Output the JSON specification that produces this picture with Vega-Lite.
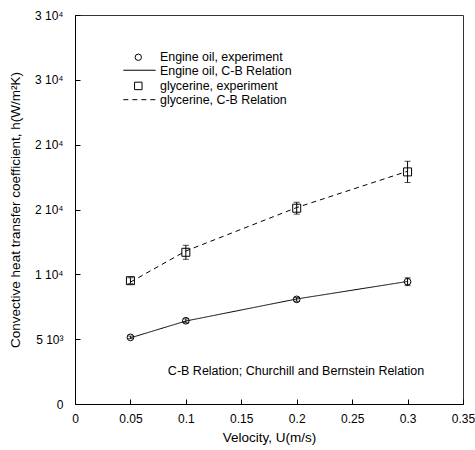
{
  "$schema": "https://vega.github.io/schema/vega-lite/v6.json",
  "width": 388,
  "height": 389,
  "autosize": "none",
  "padding": {"left": 75, "top": 15, "right": 12, "bottom": 46},
  "background": "white",
  "config": {
    "font": "Liberation Sans",
    "view": {"stroke": "#333", "strokeWidth": 1},
    "axis": {"labelFont": "Liberation Sans", "titleFont": "Liberation Sans", "labelColor": "black", "titleColor": "black", "domainColor": "black", "tickColor": "black", "grid": false, "labelFontSize": 12, "titleFontSize": 13.5, "titleFontWeight": "normal", "tickSize": -5}
  },
  "data": {
    "values": [
      {"velocity": 0.05, "h": 5140, "lo": 5040, "hi": 5240, "series": "Engine oil, experiment"},
      {"velocity": 0.1, "h": 6420, "lo": 6270, "hi": 6570, "series": "Engine oil, experiment"},
      {"velocity": 0.2, "h": 8070, "lo": 7920, "hi": 8220, "series": "Engine oil, experiment"},
      {"velocity": 0.3, "h": 9430, "lo": 9130, "hi": 9730, "series": "Engine oil, experiment"},
      {"velocity": 0.05, "h": 5100, "series": "Engine oil, C-B Relation"},
      {"velocity": 0.1, "h": 6400, "series": "Engine oil, C-B Relation"},
      {"velocity": 0.2, "h": 8100, "series": "Engine oil, C-B Relation"},
      {"velocity": 0.3, "h": 9450, "series": "Engine oil, C-B Relation"},
      {"velocity": 0.05, "h": 9510, "lo": 9280, "hi": 9740, "series": "glycerine, experiment"},
      {"velocity": 0.1, "h": 11700, "lo": 11160, "hi": 12240, "series": "glycerine, experiment"},
      {"velocity": 0.2, "h": 15100, "lo": 14640, "hi": 15560, "series": "glycerine, experiment"},
      {"velocity": 0.3, "h": 17900, "lo": 17080, "hi": 18720, "series": "glycerine, experiment"},
      {"velocity": 0.05, "h": 9400, "series": "glycerine, C-B Relation"},
      {"velocity": 0.1, "h": 11800, "series": "glycerine, C-B Relation"},
      {"velocity": 0.2, "h": 15150, "series": "glycerine, C-B Relation"},
      {"velocity": 0.3, "h": 17950, "series": "glycerine, C-B Relation"}
    ]
  },
  "layer": [
    {
      "transform": [{"filter": "indexof(datum.series, 'C-B') >= 0"}],
      "mark": {"type": "line", "color": "black", "strokeWidth": 1},
      "encoding": {
        "x": {"field": "velocity", "type": "quantitative", "scale": {"domain": [0, 0.35], "nice": false}, "title": "Velocity, U(m/s)", "axis": {"values": [0, 0.05, 0.1, 0.15, 0.2, 0.25, 0.3, 0.35], "format": "~g", "labelPadding": 14, "titlePadding": 6, "labelFlush": false}},
        "y": {"field": "h", "type": "quantitative", "scale": {"domain": [0, 30000], "nice": false}, "title": "Convective heat transfer coefficient, h(W/m²K)", "axis": {"values": [0, 5000, 10000, 15000, 20000, 25000, 30000], "labelPadding": 17, "titlePadding": 12, "labelExpr": "datum.value == 0 ? '0' : datum.value == 5000 ? '5 10³' : datum.value == 10000 ? '1 10⁴' : datum.value <= 20000 ? '2 10⁴' : '3 10⁴'"}},
        "detail": {"field": "series"},
        "strokeDash": {"field": "series", "type": "nominal", "scale": {"domain": ["Engine oil, C-B Relation", "glycerine, C-B Relation"], "range": [[1, 0], [5, 4]]}, "legend": null}
      }
    },
    {
      "transform": [{"filter": "indexof(datum.series, 'experiment') >= 0"}],
      "mark": {"type": "errorbar", "color": "black", "thickness": 1, "ticks": {"color": "black", "size": 6, "thickness": 1}},
      "encoding": {
        "x": {"field": "velocity", "type": "quantitative", "title": "Velocity, U(m/s)"},
        "y": {"field": "lo", "type": "quantitative", "title": "Convective heat transfer coefficient, h(W/m²K)"},
        "y2": {"field": "hi"},
        "detail": {"field": "series"}
      }
    },
    {
      "transform": [{"filter": "indexof(datum.series, 'experiment') >= 0"}],
      "mark": {"type": "point", "filled": false, "color": "black", "strokeWidth": 1, "opacity": 1},
      "encoding": {
        "x": {"field": "velocity", "type": "quantitative", "title": "Velocity, U(m/s)"},
        "y": {"field": "h", "type": "quantitative", "title": "Convective heat transfer coefficient, h(W/m²K)"},
        "size": {"field": "series", "type": "nominal", "scale": {"domain": ["Engine oil, experiment", "glycerine, experiment"], "range": [45, 64]}, "legend": null},
        "shape": {"field": "series", "type": "nominal", "scale": {"domain": ["Engine oil, experiment", "glycerine, experiment"], "range": ["circle", "square"]}, "legend": null}
      }
    },
    {
      "data": {"values": [{"label": "Engine oil, experiment"}]},
      "mark": {"type": "point", "shape": "circle", "filled": false, "color": "black", "strokeWidth": 1, "size": 40, "opacity": 1},
      "encoding": {"x": {"datum": 0.0571, "type": "quantitative"}, "y": {"datum": 26740, "type": "quantitative"}}
    },
    {
      "data": {"values": [{"label": "Engine oil, C-B Relation"}]},
      "mark": {"type": "rule", "color": "black", "strokeWidth": 1},
      "encoding": {"x": {"datum": 0.0436, "type": "quantitative"}, "x2": {"datum": 0.0728}, "y": {"datum": 25740, "type": "quantitative"}}
    },
    {
      "data": {"values": [{"label": "glycerine, experiment"}]},
      "mark": {"type": "point", "shape": "square", "filled": false, "color": "black", "strokeWidth": 1, "size": 56, "opacity": 1},
      "encoding": {"x": {"datum": 0.0571, "type": "quantitative"}, "y": {"datum": 24530, "type": "quantitative"}}
    },
    {
      "data": {"values": [{"label": "glycerine, C-B Relation"}]},
      "mark": {"type": "rule", "color": "black", "strokeWidth": 1, "strokeDash": [5, 4]},
      "encoding": {"x": {"datum": 0.0436, "type": "quantitative"}, "x2": {"datum": 0.0728}, "y": {"datum": 23470, "type": "quantitative"}}
    },
    {
      "data": {"values": [{"label": "Engine oil, experiment"}]},
      "mark": {"type": "text", "font": "Liberation Sans", "fontSize": 12.4, "color": "black", "align": "left", "baseline": "middle"},
      "encoding": {"x": {"datum": 0.0767, "type": "quantitative"}, "y": {"datum": 26740, "type": "quantitative"}, "text": {"field": "label"}}
    },
    {
      "data": {"values": [{"label": "Engine oil, C-B Relation"}]},
      "mark": {"type": "text", "font": "Liberation Sans", "fontSize": 12.4, "color": "black", "align": "left", "baseline": "middle"},
      "encoding": {"x": {"datum": 0.0767, "type": "quantitative"}, "y": {"datum": 25680, "type": "quantitative"}, "text": {"field": "label"}}
    },
    {
      "data": {"values": [{"label": "glycerine, experiment"}]},
      "mark": {"type": "text", "font": "Liberation Sans", "fontSize": 12.4, "color": "black", "align": "left", "baseline": "middle"},
      "encoding": {"x": {"datum": 0.0767, "type": "quantitative"}, "y": {"datum": 24530, "type": "quantitative"}, "text": {"field": "label"}}
    },
    {
      "data": {"values": [{"label": "glycerine, C-B Relation"}]},
      "mark": {"type": "text", "font": "Liberation Sans", "fontSize": 12.4, "color": "black", "align": "left", "baseline": "middle"},
      "encoding": {"x": {"datum": 0.0767, "type": "quantitative"}, "y": {"datum": 23450, "type": "quantitative"}, "text": {"field": "label"}}
    },
    {
      "data": {"values": [{"note": "C-B Relation; Churchill and Bernstein Relation"}]},
      "mark": {"type": "text", "font": "Liberation Sans", "fontSize": 12.5, "color": "black", "align": "center", "baseline": "middle"},
      "encoding": {
        "x": {"datum": 0.1994, "type": "quantitative"},
        "y": {"datum": 2570, "type": "quantitative"},
        "text": {"field": "note"}
      }
    }
  ]
}
